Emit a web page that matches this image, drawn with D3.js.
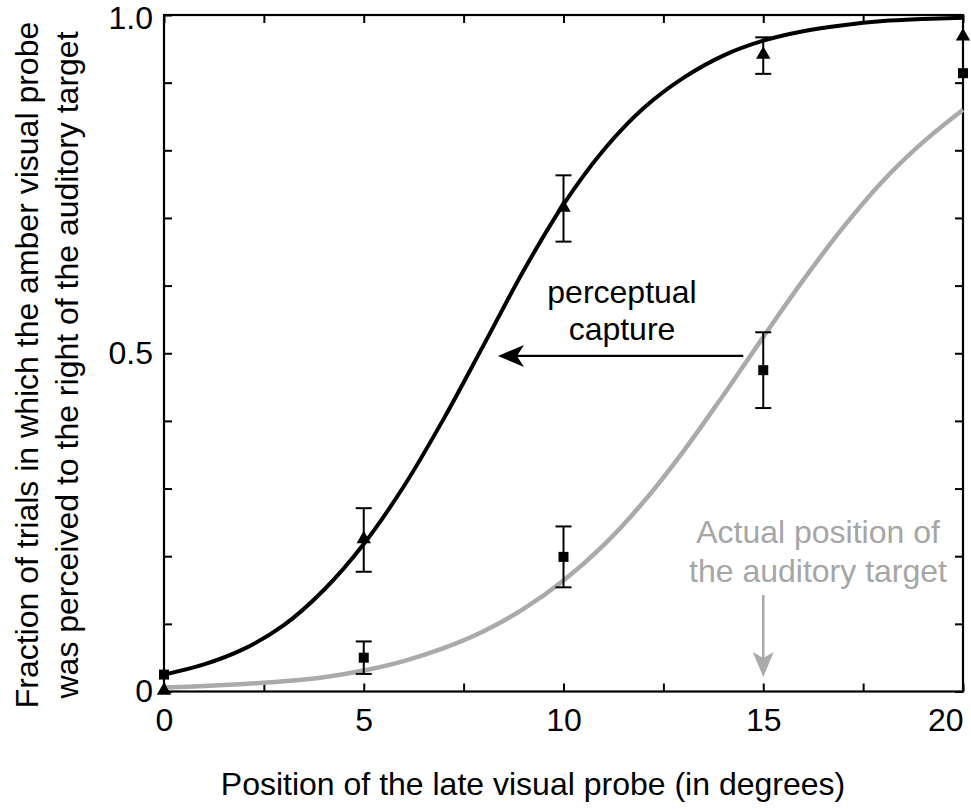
<!DOCTYPE html>
<html>
<head>
<meta charset="utf-8">
<script src="https://cdn.jsdelivr.net/npm/d3@7"></script>
<style>
  html, body { margin: 0; padding: 0; background: #fff; }
  svg { display: block; }
  text { font-family: "Liberation Sans", Arial, Helvetica, sans-serif; }
</style>
</head>
<body>
<svg id="chart" width="971" height="809"></svg>
<script>
// Probe positions (degrees)
const positions = [0, 5, 10, 15, 20];

// Audiovisual condition (triangles): fraction "right" and standard error
const captureMean = [0.0, 0.224, 0.714, 0.940, 0.967];
const captureErr  = [0.0, 0.047, 0.049, 0.027, 0.0];

// Visual-only condition (squares)
const visualMean = [0.025, 0.050, 0.199, 0.475, 0.914];
const visualErr  = [0.0, 0.024, 0.045, 0.056, 0.0];

// Fitted psychometric curves, sampled at whole degrees
const curveX = [0,1,2,3,4,5,6,7,8,9,10,11,12,13,14,15,16,17,18,19,20];
const captureFit = [0.025,0.040,0.063,0.098,0.150,0.218,0.303,0.403,0.512,0.622,0.720,0.800,0.862,0.907,0.940,0.962,0.976,0.985,0.991,0.994,0.996];
const visualFit  = [0.006,0.008,0.011,0.015,0.021,0.031,0.045,0.064,0.089,0.122,0.164,0.216,0.280,0.355,0.438,0.524,0.608,0.686,0.755,0.812,0.860];

// Axis ticks and labels
const xMinorTicks = [0, 2.5, 5, 7.5, 10, 12.5, 15, 17.5, 20];
const xLabelTicks = [0, 5, 10, 15, 20];
const xLabelText  = ["0", "5", "10", "15", "20"];
const yMinorTicks = [0, 0.1, 0.2, 0.3, 0.4, 0.5, 0.6, 0.7, 0.8, 0.9, 1.0];
const yLabelTicks = [0, 0.5, 1.0];
const yLabelText  = ["0", "0.5", "1.0"];

const xTitle = "Position of the late visual probe (in degrees)";
const yTitle = ["Fraction of trials in which the amber visual probe",
                "was perceived to the right of the auditory target"];
const captureNote = ["perceptual", "capture"];
const targetNote  = ["Actual position of", "the auditory target"];

const GREY = "#aaaaaa";
const FONT = 32;

const svg = d3.select("#chart");
const plot = { left: 164, right: 963, top: 15, bottom: 691.5 };

const x = d3.scaleLinear().domain([0, 20]).range([plot.left, plot.right]);
const y = d3.scaleLinear().domain([0, 1]).range([plot.bottom, plot.top]);

// Inward ticks on all four sides
const tickLen = 8;
function styleTicks(g) {
  g.select(".domain").remove();
  g.selectAll(".tick line").attr("stroke", "#000").attr("stroke-width", 2);
}
svg.append("g").attr("transform", `translate(0,${plot.bottom})`)
  .call(d3.axisBottom(x).tickValues(xMinorTicks).tickSize(-tickLen).tickFormat(""))
  .call(styleTicks);
svg.append("g").attr("transform", `translate(0,${plot.top})`)
  .call(d3.axisTop(x).tickValues(xMinorTicks).tickSize(-tickLen).tickFormat(""))
  .call(styleTicks);
svg.append("g").attr("transform", `translate(${plot.left},0)`)
  .call(d3.axisLeft(y).tickValues(yMinorTicks).tickSize(-tickLen).tickFormat(""))
  .call(styleTicks);
svg.append("g").attr("transform", `translate(${plot.right},0)`)
  .call(d3.axisRight(y).tickValues(yMinorTicks).tickSize(-tickLen).tickFormat(""))
  .call(styleTicks);

// Tick labels
const xLab = svg.append("g").attr("transform", `translate(0,${plot.bottom})`)
  .call(d3.axisBottom(x).tickValues(xLabelTicks).tickSize(0).tickPadding(17)
        .tickFormat((d, i) => xLabelText[i]));
xLab.select(".domain").remove();
xLab.selectAll("text").attr("font-size", FONT).attr("fill", "#000")
  .attr("font-family", "Liberation Sans, Arial, sans-serif");
// the last label sits flush against the right edge of the frame
xLab.selectAll("text").filter(d => d === 20)
  .attr("text-anchor", "end").attr("x", 0);

const yLab = svg.append("g").attr("transform", `translate(${plot.left},0)`)
  .call(d3.axisLeft(y).tickValues(yLabelTicks).tickSize(0).tickPadding(11)
        .tickFormat((d, i) => yLabelText[i]));
yLab.select(".domain").remove();
yLab.selectAll("text").attr("font-size", FONT).attr("fill", "#000")
  .attr("font-family", "Liberation Sans, Arial, sans-serif");
yLab.selectAll("text").filter(d => d === 1).attr("dy", "0.42em");

// Frame
svg.append("rect")
  .attr("x", plot.left).attr("y", plot.top)
  .attr("width", plot.right - plot.left).attr("height", plot.bottom - plot.top)
  .attr("fill", "none").attr("stroke", "#000").attr("stroke-width", 2.2);

// Fitted curves
const line = d3.line()
  .x((d, i) => x(curveX[i]))
  .y(d => y(d))
  .curve(d3.curveCatmullRom.alpha(0.5));

svg.append("path").datum(visualFit).attr("d", line)
  .attr("fill", "none").attr("stroke", GREY).attr("stroke-width", 4.5);
svg.append("path").datum(captureFit).attr("d", line)
  .attr("fill", "none").attr("stroke", "#000").attr("stroke-width", 4);

// Error bars
function errorBars(means, errs) {
  const g = svg.append("g").attr("stroke", "#000").attr("stroke-width", 2);
  positions.forEach((p, i) => {
    if (!errs[i]) return;
    const cx = x(p), y0 = y(means[i] - errs[i]), y1 = y(means[i] + errs[i]);
    g.append("line").attr("x1", cx).attr("x2", cx).attr("y1", y0).attr("y2", y1);
    g.append("line").attr("x1", cx - 8).attr("x2", cx + 8).attr("y1", y0).attr("y2", y0);
    g.append("line").attr("x1", cx - 8).attr("x2", cx + 8).attr("y1", y1).attr("y2", y1);
  });
}
errorBars(visualMean, visualErr);
errorBars(captureMean, captureErr);

// Markers
svg.append("g").selectAll("path").data(visualMean).join("path")
  .attr("transform", (d, i) => `translate(${x(positions[i])},${y(d)})`)
  .attr("d", d3.symbol(d3.symbolSquare, 100))
  .attr("fill", "#000");
svg.append("g").selectAll("path").data(captureMean).join("path")
  .attr("transform", (d, i) => `translate(${x(positions[i])},${y(d) - 1})`)
  .attr("d", d3.symbol(d3.symbolTriangle, 90))
  .attr("fill", "#000");

// "perceptual capture" arrow (points left, at the 50% level)
const capY = y(0.496), capFrom = x(14.5), capTip = x(8.36);
svg.append("line").attr("x1", capFrom).attr("x2", capTip + 10)
  .attr("y1", capY).attr("y2", capY).attr("stroke", "#000").attr("stroke-width", 2.2);
svg.append("path")
  .attr("d", `M${capTip},${capY} L${capTip + 26},${capY - 11} L${capTip + 19},${capY} L${capTip + 26},${capY + 11} Z`)
  .attr("fill", "#000");

svg.append("g").selectAll("text").data(captureNote).join("text")
  .attr("x", 622).attr("y", (d, i) => 303 + i * 37)
  .attr("text-anchor", "middle").attr("font-size", FONT).attr("fill", "#000")
  .text(d => d);

// Auditory target marker (points down at 15 degrees)
const tgtX = x(15), tgtTop = 595, tgtTip = 677;
svg.append("line").attr("x1", tgtX).attr("x2", tgtX)
  .attr("y1", tgtTop).attr("y2", tgtTip - 10)
  .attr("stroke", GREY).attr("stroke-width", 2.5);
svg.append("path")
  .attr("d", `M${tgtX},${tgtTip} L${tgtX - 10.5},${tgtTip - 25} L${tgtX},${tgtTip - 19} L${tgtX + 10.5},${tgtTip - 25} Z`)
  .attr("fill", GREY);

svg.append("g").selectAll("text").data(targetNote).join("text")
  .attr("x", 818).attr("y", (d, i) => 543 + i * 39)
  .attr("text-anchor", "middle").attr("font-size", FONT).attr("fill", "#a6a6a6")
  .text(d => d);

// Axis titles
svg.append("text").attr("x", 533).attr("y", 795)
  .attr("text-anchor", "middle").attr("font-size", FONT).attr("fill", "#000")
  .text(xTitle);

svg.append("g").selectAll("text").data(yTitle).join("text")
  .attr("transform", (d, i) => `translate(${38 + i * 40},365) rotate(-90)`)
  .attr("text-anchor", "middle").attr("font-size", FONT).attr("fill", "#000")
  .text(d => d);
</script>
</body>
</html>
